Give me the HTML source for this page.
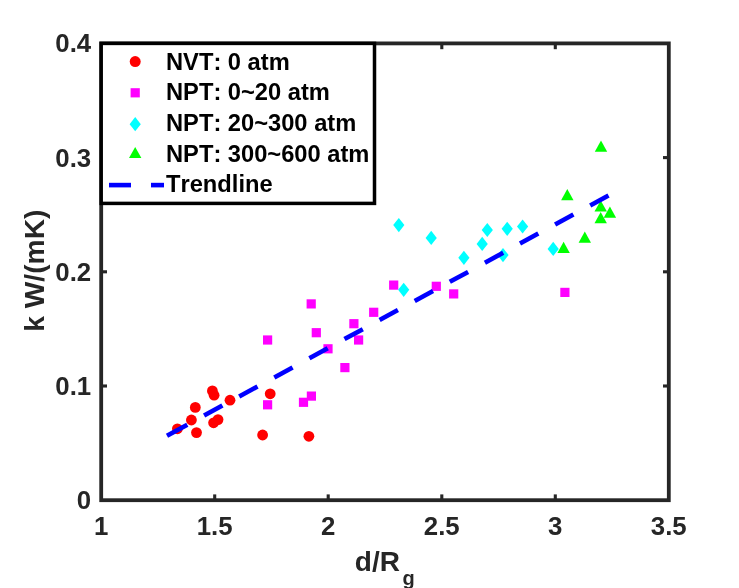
<!DOCTYPE html>
<html><head><meta charset="utf-8"><title>plot</title>
<style>
html,body{margin:0;padding:0;background:#fff;}
body{width:739px;height:588px;overflow:hidden;}
svg{display:block;filter:blur(0.5px);}
text{font-family:"Liberation Sans",sans-serif;font-weight:bold;font-kerning:none;}
</style></head><body>
<svg width="739" height="588" viewBox="0 0 739 588">
<rect x="0" y="0" width="739" height="588" fill="#ffffff"/>

<rect x="101.2" y="43.4" width="567.5999999999999" height="456.8" fill="none" stroke="#262626" stroke-width="3.8"/>
<line x1="214.7" y1="500.2" x2="214.7" y2="494.4" stroke="#262626" stroke-width="3.1"/>
<line x1="214.7" y1="43.4" x2="214.7" y2="49.199999999999996" stroke="#262626" stroke-width="3.1"/>
<line x1="328.2" y1="500.2" x2="328.2" y2="494.4" stroke="#262626" stroke-width="3.1"/>
<line x1="328.2" y1="43.4" x2="328.2" y2="49.199999999999996" stroke="#262626" stroke-width="3.1"/>
<line x1="441.8" y1="500.2" x2="441.8" y2="494.4" stroke="#262626" stroke-width="3.1"/>
<line x1="441.8" y1="43.4" x2="441.8" y2="49.199999999999996" stroke="#262626" stroke-width="3.1"/>
<line x1="555.3" y1="500.2" x2="555.3" y2="494.4" stroke="#262626" stroke-width="3.1"/>
<line x1="555.3" y1="43.4" x2="555.3" y2="49.199999999999996" stroke="#262626" stroke-width="3.1"/>
<line x1="101.2" y1="386.0" x2="107.0" y2="386.0" stroke="#262626" stroke-width="3.1"/>
<line x1="668.8" y1="386.0" x2="663.0" y2="386.0" stroke="#262626" stroke-width="3.1"/>
<line x1="101.2" y1="271.8" x2="107.0" y2="271.8" stroke="#262626" stroke-width="3.1"/>
<line x1="668.8" y1="271.8" x2="663.0" y2="271.8" stroke="#262626" stroke-width="3.1"/>
<line x1="101.2" y1="157.6" x2="107.0" y2="157.6" stroke="#262626" stroke-width="3.1"/>
<line x1="668.8" y1="157.6" x2="663.0" y2="157.6" stroke="#262626" stroke-width="3.1"/>
<text x="101.2" y="534.5" font-size="25.8" fill="#262626" text-anchor="middle">1</text>
<text x="214.7" y="534.5" font-size="25.8" fill="#262626" text-anchor="middle">1.5</text>
<text x="328.2" y="534.5" font-size="25.8" fill="#262626" text-anchor="middle">2</text>
<text x="441.8" y="534.5" font-size="25.8" fill="#262626" text-anchor="middle">2.5</text>
<text x="555.3" y="534.5" font-size="25.8" fill="#262626" text-anchor="middle">3</text>
<text x="668.8" y="534.5" font-size="25.8" fill="#262626" text-anchor="middle">3.5</text>
<text x="91.2" y="509.2" font-size="25.8" fill="#262626" text-anchor="end">0</text>
<text x="91.2" y="395.0" font-size="25.8" fill="#262626" text-anchor="end">0.1</text>
<text x="91.2" y="280.8" font-size="25.8" fill="#262626" text-anchor="end">0.2</text>
<text x="91.2" y="166.6" font-size="25.8" fill="#262626" text-anchor="end">0.3</text>
<text x="91.2" y="52.4" font-size="25.8" fill="#262626" text-anchor="end">0.4</text>
<text x="354.8" y="570.6" font-size="28" fill="#262626">d/R<tspan font-size="20" dx="2.6" dy="13.9">g</tspan></text>
<text transform="translate(44.2,270.7) rotate(-90)" font-size="28.2" fill="#262626" text-anchor="middle">k W/(mK)</text>
<circle cx="177.4" cy="428.8" r="5.4" fill="#ff0000"/>
<circle cx="191.4" cy="420.0" r="5.4" fill="#ff0000"/>
<circle cx="195.3" cy="407.4" r="5.4" fill="#ff0000"/>
<circle cx="196.5" cy="432.6" r="5.4" fill="#ff0000"/>
<circle cx="212.4" cy="390.9" r="5.4" fill="#ff0000"/>
<circle cx="214.1" cy="395.2" r="5.4" fill="#ff0000"/>
<circle cx="213.6" cy="422.8" r="5.4" fill="#ff0000"/>
<circle cx="218.0" cy="419.6" r="5.4" fill="#ff0000"/>
<circle cx="230.0" cy="400.2" r="5.4" fill="#ff0000"/>
<circle cx="270.2" cy="393.8" r="5.4" fill="#ff0000"/>
<circle cx="262.6" cy="435.0" r="5.4" fill="#ff0000"/>
<circle cx="308.9" cy="436.3" r="5.4" fill="#ff0000"/>
<rect x="263.0" y="335.4" width="9.2" height="9.2" fill="#ff00ff"/>
<rect x="306.6" y="299.3" width="9.2" height="9.2" fill="#ff00ff"/>
<rect x="311.7" y="328.1" width="9.2" height="9.2" fill="#ff00ff"/>
<rect x="323.4" y="344.2" width="9.2" height="9.2" fill="#ff00ff"/>
<rect x="349.3" y="319.1" width="9.2" height="9.2" fill="#ff00ff"/>
<rect x="354.0" y="335.4" width="9.2" height="9.2" fill="#ff00ff"/>
<rect x="340.3" y="363.0" width="9.2" height="9.2" fill="#ff00ff"/>
<rect x="369.1" y="307.7" width="9.2" height="9.2" fill="#ff00ff"/>
<rect x="306.8" y="391.5" width="9.2" height="9.2" fill="#ff00ff"/>
<rect x="298.9" y="397.7" width="9.2" height="9.2" fill="#ff00ff"/>
<rect x="263.0" y="400.2" width="9.2" height="9.2" fill="#ff00ff"/>
<rect x="389.1" y="280.5" width="9.2" height="9.2" fill="#ff00ff"/>
<rect x="431.7" y="281.7" width="9.2" height="9.2" fill="#ff00ff"/>
<rect x="449.1" y="289.3" width="9.2" height="9.2" fill="#ff00ff"/>
<rect x="560.3" y="287.8" width="9.2" height="9.2" fill="#ff00ff"/>
<polygon points="398.8,218.0 404.4,225.1 398.8,232.2 393.2,225.1" fill="#00ffff"/>
<polygon points="431.2,230.8 436.8,237.9 431.2,245.0 425.6,237.9" fill="#00ffff"/>
<polygon points="403.7,282.7 409.3,289.8 403.7,296.9 398.1,289.8" fill="#00ffff"/>
<polygon points="463.9,250.7 469.5,257.8 463.9,264.9 458.3,257.8" fill="#00ffff"/>
<polygon points="482.2,236.8 487.8,243.9 482.2,251.0 476.6,243.9" fill="#00ffff"/>
<polygon points="487.3,222.9 492.9,230.0 487.3,237.1 481.7,230.0" fill="#00ffff"/>
<polygon points="507.2,221.7 512.8,228.8 507.2,235.9 501.6,228.8" fill="#00ffff"/>
<polygon points="503.0,248.0 508.6,255.1 503.0,262.2 497.4,255.1" fill="#00ffff"/>
<polygon points="522.6,219.4 528.2,226.5 522.6,233.6 517.0,226.5" fill="#00ffff"/>
<polygon points="553.2,241.8 558.8,248.9 553.2,256.0 547.6,248.9" fill="#00ffff"/>
<polygon points="601.0,140.6 607.2,151.8 594.8,151.8" fill="#00ff00"/>
<polygon points="567.3,189.1 573.5,200.3 561.1,200.3" fill="#00ff00"/>
<polygon points="600.7,200.4 606.9,211.6 594.5,211.6" fill="#00ff00"/>
<polygon points="609.9,206.5 616.1,217.7 603.7,217.7" fill="#00ff00"/>
<polygon points="600.7,212.0 606.9,223.2 594.5,223.2" fill="#00ff00"/>
<polygon points="584.8,231.6 591.0,242.8 578.6,242.8" fill="#00ff00"/>
<polygon points="563.6,241.8 569.8,253.0 557.4,253.0" fill="#00ff00"/>
<line x1="167.0" y1="435.8" x2="187.3" y2="424.7" stroke="#0000ff" stroke-width="4.6"/>
<line x1="204.1" y1="415.6" x2="222.4" y2="405.6" stroke="#0000ff" stroke-width="4.6"/>
<line x1="239.2" y1="396.5" x2="257.5" y2="386.5" stroke="#0000ff" stroke-width="4.6"/>
<line x1="274.3" y1="377.4" x2="292.6" y2="367.4" stroke="#0000ff" stroke-width="4.6"/>
<line x1="309.4" y1="358.3" x2="327.7" y2="348.3" stroke="#0000ff" stroke-width="4.6"/>
<line x1="344.5" y1="339.1" x2="362.8" y2="329.2" stroke="#0000ff" stroke-width="4.6"/>
<line x1="379.6" y1="320.0" x2="397.9" y2="310.1" stroke="#0000ff" stroke-width="4.6"/>
<line x1="414.7" y1="300.9" x2="433.0" y2="291.0" stroke="#0000ff" stroke-width="4.6"/>
<line x1="449.8" y1="281.8" x2="468.1" y2="271.9" stroke="#0000ff" stroke-width="4.6"/>
<line x1="484.9" y1="262.7" x2="503.2" y2="252.7" stroke="#0000ff" stroke-width="4.6"/>
<line x1="520.0" y1="243.6" x2="538.3" y2="233.6" stroke="#0000ff" stroke-width="4.6"/>
<line x1="555.1" y1="224.5" x2="573.4" y2="214.5" stroke="#0000ff" stroke-width="4.6"/>
<line x1="590.2" y1="205.4" x2="608.5" y2="195.4" stroke="#0000ff" stroke-width="4.6"/>
<rect x="101.2" y="43.4" width="273.3" height="160" fill="#ffffff" stroke="#000000" stroke-width="3.5"/>
<text x="166.0" y="70.0" font-size="23.7" fill="#000">NVT: 0 atm</text>
<text x="166.0" y="100.0" font-size="23.7" fill="#000">NPT: 0~20 atm</text>
<text x="166.0" y="130.6" font-size="23.7" fill="#000">NPT: 20~300 atm</text>
<text x="166.0" y="162.2" font-size="23.7" fill="#000">NPT: 300~600 atm</text>
<text x="166.0" y="191.7" font-size="23.7" fill="#000">Trendline</text>
<circle cx="135.2" cy="61.6" r="5.5" fill="#ff0000"/>
<rect x="130.6" y="88.2" width="9.2" height="9.2" fill="#ff00ff"/>
<polygon points="135.2,117.1 140.8,124.2 135.2,131.3 129.6,124.2" fill="#00ffff"/>
<polygon points="135.2,146.9 141.4,158.1 129.0,158.1" fill="#00ff00"/>
<line x1="109" y1="185.1" x2="131" y2="185.1" stroke="#0000ff" stroke-width="4.6"/>
<line x1="151" y1="185.1" x2="164" y2="185.1" stroke="#0000ff" stroke-width="4.6"/>
</svg></body></html>
